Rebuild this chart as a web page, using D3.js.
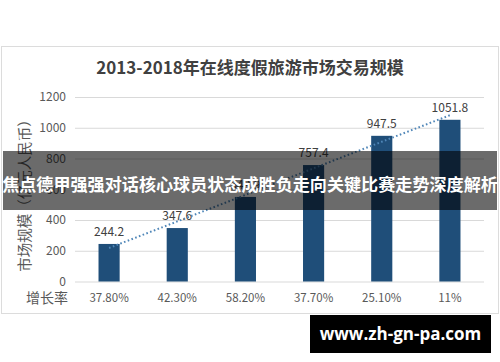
<!DOCTYPE html>
<html>
<head>
<meta charset="utf-8">
<script src="https://cdn.jsdelivr.net/npm/d3@7"></script>
<style>
  body { margin: 0; background: #fff; }
  svg { display: block; font-family: "Noto Sans CJK SC", "Noto Sans", sans-serif; }
</style>
</head>
<body>
<svg width="500" height="362"></svg>
<script>
// chart data
const years = ['2013', '2014', '2015', '2016', '2017', '2018'];
const values = [244.2, 347.6, 549.9, 757.4, 947.5, 1051.8];
const growth = ['37.80%', '42.30%', '58.20%', '37.70%', '25.10%', '11%'];
const yTicks = [0, 200, 400, 600, 800, 1000, 1200];

const title = '2013-2018年在线度假旅游市场交易规模';
const yTitle = '市场规模（亿元人民币）';
const banner = '焦点德甲强强对话核心球员状态成胜负走向关键比赛走势深度解析';
const site = 'www.zh-gn-pa.com';

const svg = d3.select('svg');

svg.append('rect')
  .attr('x', 1.5).attr('y', 46.5)
  .attr('width', 497).attr('height', 267)
  .attr('fill', '#fff')
  .attr('stroke', '#dcdcdc');

svg.append('text')
  .attr('x', 250).attr('y', 74)
  .attr('text-anchor', 'middle')
  .attr('font-size', 17).attr('font-weight', 'bold')
  .attr('fill', '#404040')
  .text(title);

const x = d3.scaleBand()
  .domain(years)
  .range([75, 484])
  .paddingInner(0.69)
  .paddingOuter(0.345);

const y = d3.scaleLinear()
  .domain([0, 1200])
  .range([281.5, 97]);

// grid + y labels
const yAxis = svg.append('g')
  .attr('transform', 'translate(75,0)')
  .call(d3.axisLeft(y).tickValues(yTicks).tickSize(-409).tickPadding(9).tickFormat(d3.format('d')));
yAxis.select('.domain').remove();
yAxis.selectAll('line').attr('stroke', '#d9d9d9');
yAxis.selectAll('text')
  .attr('fill', '#595959')
  .attr('font-size', 12)
  .attr('font-family', '"Noto Sans CJK SC", sans-serif');

svg.append('text')
  .attr('transform', 'translate(30,192) rotate(-90)')
  .attr('text-anchor', 'middle')
  .attr('font-size', 14.5)
  .attr('fill', '#595959')
  .text(yTitle);

// bars
svg.append('g').selectAll('rect')
  .data(values)
  .join('rect')
  .attr('x', (d, i) => x(years[i]))
  .attr('y', d => y(d))
  .attr('width', x.bandwidth())
  .attr('height', d => y(0) - y(d))
  .attr('fill', '#1f4e79');

svg.append('g').selectAll('text')
  .data(values)
  .join('text')
  .attr('x', (d, i) => x(years[i]) + x.bandwidth() / 2)
  .attr('y', d => y(d) - 8)
  .attr('text-anchor', 'middle')
  .attr('font-size', 12)
  .attr('fill', '#404040')
  .text(d => d.toFixed(1));

// linear trend line (least squares)
const n = values.length;
const mx = (n + 1) / 2;
const my = d3.mean(values);
const slope = d3.sum(values, (v, i) => (i + 1 - mx) * (v - my)) / d3.sum(values, (v, i) => (i + 1 - mx) ** 2);
const trend = values.map((v, i) => [years[i], my + slope * (i + 1 - mx)]);

svg.append('path')
  .datum(trend)
  .attr('fill', 'none')
  .attr('stroke', '#4f86b8')
  .attr('stroke-width', 2)
  .attr('stroke-dasharray', '1.6,2.4')
  .attr('d', d3.line()
    .x(d => x(d[0]) + x.bandwidth() / 2)
    .y(d => y(d[1])));

// growth row
svg.append('text')
  .attr('x', 47).attr('y', 303)
  .attr('text-anchor', 'middle')
  .attr('font-size', 14)
  .attr('fill', '#595959')
  .text('增长率');

svg.append('g').selectAll('text')
  .data(growth)
  .join('text')
  .attr('x', (d, i) => x(years[i]) + x.bandwidth() / 2)
  .attr('y', 302)
  .attr('text-anchor', 'middle')
  .attr('font-size', 11.5)
  .attr('fill', '#595959')
  .text(d => d);

// overlay banner
svg.append('rect')
  .attr('x', 3).attr('y', 151)
  .attr('width', 494).attr('height', 59)
  .attr('fill', 'rgba(0,0,0,0.58)');

svg.append('text')
  .attr('x', 250).attr('y', 191)
  .attr('text-anchor', 'middle')
  .attr('font-size', 17.1).attr('font-weight', 'bold')
  .attr('fill', '#fff')
  .text(banner);

// watermark
svg.append('rect')
  .attr('x', 310).attr('y', 315)
  .attr('width', 181).attr('height', 38)
  .attr('fill', '#000');

svg.append('text')
  .attr('x', 400.5).attr('y', 340)
  .attr('text-anchor', 'middle')
  .attr('font-size', 17).attr('font-weight', 'bold')
  .attr('font-family', '"Open Sans", sans-serif')
  .attr('fill', '#fff')
  .text(site);
</script>
</body>
</html>
